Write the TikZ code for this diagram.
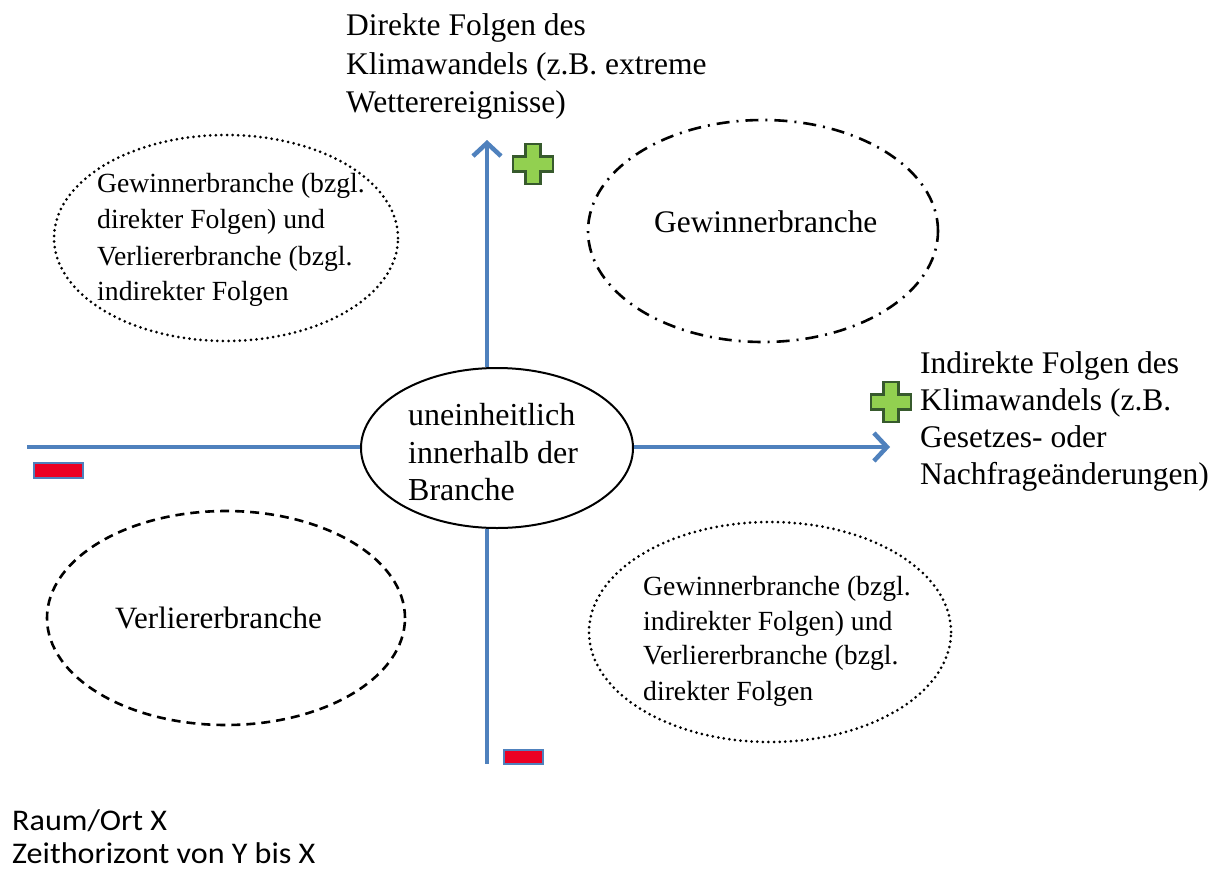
\documentclass[tikz,border=0pt]{standalone}
\usepackage{fontspec}
\setmainfont{Liberation Serif}
\newfontfamily\calibfont[FakeStretch=1.07]{Carlito}
\usetikzlibrary{arrows.meta,shapes.geometric}
\definecolor{axisblue}{RGB}{79,129,189}
\definecolor{plusgreen}{RGB}{146,208,80}
\definecolor{plusedge}{RGB}{55,90,45}
\definecolor{minusred}{RGB}{235,0,35}
\begin{document}
\begin{tikzpicture}[x=1pt,y=-1pt,
  axis/.style={draw=axisblue,line width=4.5pt},
  axisarrow/.style={axis,-{Straight Barb[length=13pt,width=28pt]}},
  quad/.style={ellipse,inner sep=0pt,line width=2.6pt},
  dotline/.style={line width=3pt,dash pattern=on 0pt off 5.6pt,line cap=round},
  dashline/.style={dash pattern=on 9pt off 6pt},
  dashdotline/.style={dash pattern=on 13pt off 7pt on 2pt off 7pt},
  centerell/.style={ellipse,draw,line width=2pt,inner sep=0pt,minimum width=272pt,minimum height=160pt},
  big/.style={anchor=base west,inner sep=0pt,font=\fontsize{31.5}{38}\selectfont},
  small/.style={anchor=base west,inner sep=0pt,font=\fontsize{27.7}{34}\selectfont},
  sans/.style={anchor=base west,inner sep=0pt,font=\calibfont\fontsize{30}{34}\selectfont},
  plusstyle/.style={fill=plusgreen,draw=plusedge,line width=2.2pt,line join=miter},
  minusstyle/.style={fill=minusred,draw=axisblue,line width=2.5pt},
  greenplus/.pic={\path[plusstyle] (-7.5,-20) -- (7.5,-20) -- (7.5,-7.5) -- (20,-7.5) -- (20,7.5) -- (7.5,7.5) -- (7.5,20) -- (-7.5,20) -- (-7.5,7.5) -- (-20,7.5) -- (-20,-7.5) -- (-7.5,-7.5) -- cycle;}
]
\useasboundingbox[fill=white] (0,0) rectangle (1219,873);

% quadrant ellipses
\node[quad,draw,dotline,minimum width=344pt,minimum height=206pt] (tl) at (226,238) {};
\node[quad,draw,dashdotline,minimum width=350pt,minimum height=222pt] (tr) at (763,231) {};
\node[quad,draw,dashline,minimum width=358pt,minimum height=214pt] (bl) at (226,618) {};
\node[quad,draw,dotline,minimum width=362pt,minimum height=220pt] (br) at (770,632) {};

% center ellipse
\node[centerell] (c) at (497,448) {};

% axes
\coordinate (vtop) at (487,140);
\coordinate (vbot) at (487,764);
\coordinate (hleft) at (27,447);
\coordinate (hright) at (890,447);
\draw[axisarrow] (vtop |- c.north) -- (vtop);
\draw[axis] (vbot |- c.south) -- (vbot);
\draw[axis] (hleft) -- (c.west |- hleft);
\draw[axisarrow] (c.east |- hright) -- (hright);

% plus / minus signs
\pic (plus1) at (533,164) {greenplus};
\pic (plus2) at (891,402) {greenplus};
\draw[minusstyle] (34,463) rectangle (83,478);
\draw[minusstyle] (504,750) rectangle (543,764);

% top label
\node[big] (d1) at (346,35) {Direkte Folgen des};
\node[big] (d2) at (346,74) {Klimawandels (z.B. extreme};
\node[big] (d3) at (346,112) {Wetterereignisse)};

% right label
\node[big] (i1) at (920,373) {Indirekte Folgen des};
\node[big] (i2) at (920,410) {Klimawandels (z.B.};
\node[big] (i3) at (920,447) {Gesetzes- oder};
\node[big] (i4) at (920,484) {Nachfrageänderungen)};

% quadrant texts
\node[small] (tl1) at (97,192) {Gewinnerbranche (bzgl.};
\node[small] (tl2) at (97,228) {direkter Folgen) und};
\node[small] (tl3) at (97,265) {Verliererbranche (bzgl.};
\node[small] (tl4) at (97,300) {indirekter Folgen};

\node[anchor=base west,inner sep=0pt,font=\fontsize{31.4}{38}\selectfont] (trt) at (654,232) {Gewinnerbranche};
\node[anchor=base west,inner sep=0pt,font=\fontsize{31}{38}\selectfont] (blt) at (115,628) {Verliererbranche};

\node[small] (br1) at (643,595) {Gewinnerbranche (bzgl.};
\node[small] (br2) at (643,630) {indirekter Folgen) und};
\node[small] (br3) at (643,664) {Verliererbranche (bzgl.};
\node[small] (br4) at (643,700) {direkter Folgen};

% center text
\node[anchor=base west,inner sep=0pt,font=\fontsize{32}{38}\selectfont] (c1) at (408,425) {uneinheitlich};
\node[anchor=base west,inner sep=0pt,font=\fontsize{32}{38}\selectfont] (c2) at (408,463) {innerhalb der};
\node[anchor=base west,inner sep=0pt,font=\fontsize{32}{38}\selectfont] (c3) at (408,500) {Branche};

% bottom-left notes
\node[sans] (r1) at (12,830) {Raum/Ort X};
\node[sans] (r2) at (12,863) {Zeithorizont von Y bis X};
\end{tikzpicture}
\end{document}
